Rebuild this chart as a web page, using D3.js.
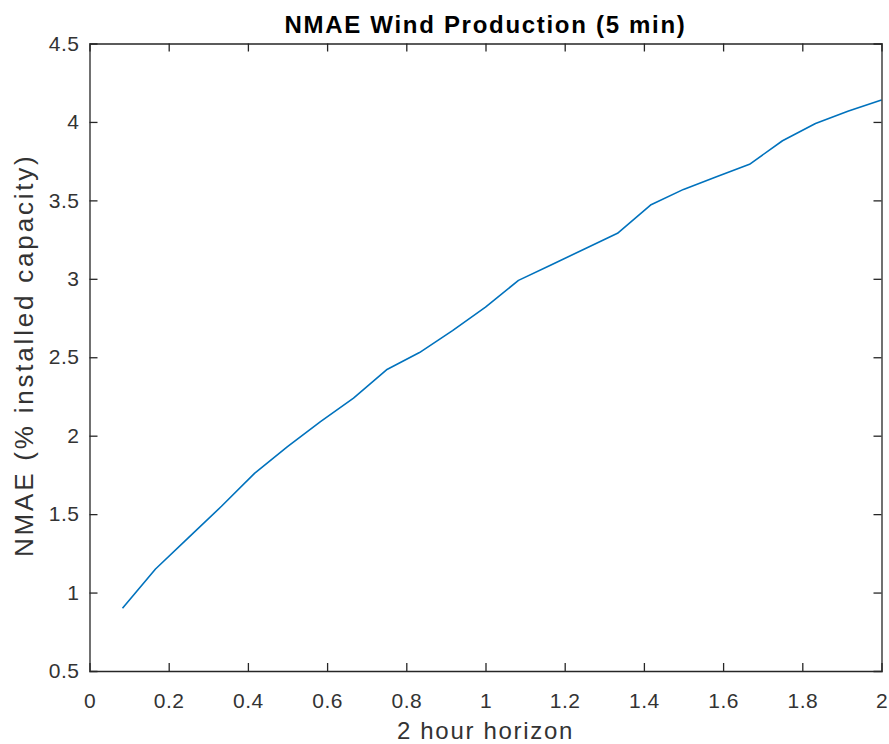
<!DOCTYPE html>
<html>
<head>
<meta charset="utf-8">
<script src="https://cdn.jsdelivr.net/npm/d3@7"></script>
<style>
body { margin: 0; background: #fff; }
text { font-family: "Liberation Sans", Arial, sans-serif; }
</style>
</head>
<body>
<div id="canvas"></div>
<script>
// ----------------------------------------------------------
// DATA -----------------------------------------------------
// ----------------------------------------------------------

// horizon in hours (5 min steps)
var horizon = [0.0833, 0.1667, 0.25, 0.3333, 0.4167, 0.5, 0.5833, 0.6667,
  0.75, 0.8333, 0.9167, 1.0, 1.0833, 1.1667, 1.25, 1.3333,
  1.4167, 1.5, 1.5833, 1.6667, 1.75, 1.8333, 1.9167, 2.0];

// NMAE (% installed capacity)
var nmae = [0.90, 1.15, 1.35, 1.55, 1.76, 1.93, 2.09, 2.24,
  2.42, 2.53, 2.67, 2.82, 2.99, 3.09, 3.19, 3.29,
  3.47, 3.57, 3.65, 3.73, 3.88, 3.99, 4.07, 4.14];

var x_ticks = [0, 0.2, 0.4, 0.6, 0.8, 1, 1.2, 1.4, 1.6, 1.8, 2];
var y_ticks = [0.5, 1, 1.5, 2, 2.5, 3, 3.5, 4, 4.5];

var title_text = "NMAE Wind Production (5 min)";
var x_label = "2 hour horizon";
var y_label = "NMAE (% installed capacity)";

// ----------------------------------------------------------
// STRUCTURE ------------------------------------------------
// ----------------------------------------------------------

var W = 889, H = 744;
var box = { left: 89.5, right: 881.5, top: 43.5, bottom: 671 };
var axis_color = "#262626";
var label_color = "#333";
var tick_len = 8;

var svg = d3.select("#canvas").append("svg")
  .attr("width", W)
  .attr("height", H)
  .style("background-color", "#fff");

var xScale = d3.scaleLinear().domain([0, 2]).range([box.left, box.right]);
var yScale = d3.scaleLinear().domain([0.5, 4.5]).range([box.bottom, box.top]);

// ----------------------------------------------------------
// LINE -----------------------------------------------------
// ----------------------------------------------------------

var points = horizon.map(function (h, i) { return [h, nmae[i]]; });

svg.append("path")
  .datum(points)
  .attr("fill", "none")
  .attr("stroke", "#0072BD")
  .attr("stroke-width", 1.6)
  .attr("stroke-linejoin", "round")
  .attr("d", d3.line()
    .x(function (d) { return xScale(d[0]); })
    .y(function (d) { return yScale(d[1]); }));

// ----------------------------------------------------------
// AXES (box with inward ticks on all sides) ----------------
// ----------------------------------------------------------

var xBottom = svg.append("g")
  .attr("transform", "translate(0," + box.bottom + ")")
  .call(d3.axisBottom(xScale).tickValues(x_ticks).tickSize(-tick_len).tickPadding(tick_len + 14).tickFormat(d3.format("~g")));
var xTop = svg.append("g")
  .attr("transform", "translate(0," + box.top + ")")
  .call(d3.axisTop(xScale).tickValues(x_ticks).tickSize(-tick_len).tickFormat(""));
var yLeft = svg.append("g")
  .attr("transform", "translate(" + box.left + ",0)")
  .call(d3.axisLeft(yScale).tickValues(y_ticks).tickSize(-tick_len).tickPadding(tick_len + 2).tickFormat(d3.format("~g")));
var yRight = svg.append("g")
  .attr("transform", "translate(" + box.right + ",0)")
  .call(d3.axisRight(yScale).tickValues(y_ticks).tickSize(-tick_len).tickFormat(""));

[xBottom, xTop, yLeft, yRight].forEach(function (g) {
  g.select(".domain").attr("stroke", axis_color).attr("stroke-width", 1.3);
  g.selectAll(".tick line").attr("stroke", axis_color).attr("stroke-width", 1.3);
  g.selectAll(".tick text")
    .attr("fill", label_color)
    .style("font-family", "'Liberation Sans', Arial, sans-serif")
    .style("font-size", "21px")
    .style("letter-spacing", "0.5px");
});
// hide ticks at the box corners
xBottom.selectAll(".tick line").filter(function (d) { return d === 0 || d === 2; }).remove();
xTop.selectAll(".tick line").filter(function (d) { return d === 0 || d === 2; }).remove();
yLeft.selectAll(".tick line").filter(function (d) { return d === 0.5 || d === 4.5; }).remove();
yRight.selectAll(".tick line").filter(function (d) { return d === 0.5 || d === 4.5; }).remove();

// ----------------------------------------------------------
// TEXT -----------------------------------------------------
// ----------------------------------------------------------

svg.append("text")
  .attr("x", (box.left + box.right) / 2)
  .attr("y", 33)
  .attr("text-anchor", "middle")
  .style("font-size", "24px")
  .style("font-weight", "bold")
  .style("letter-spacing", "1.7px")
  .attr("fill", "#000")
  .text(title_text);

svg.append("text")
  .attr("x", (box.left + box.right) / 2)
  .attr("y", 739)
  .attr("text-anchor", "middle")
  .style("font-size", "24px")
  .style("letter-spacing", "1.7px")
  .attr("fill", label_color)
  .text(x_label);

svg.append("text")
  .attr("transform", "translate(33," + ((box.top + box.bottom) / 2 - 2) + ") rotate(-90)")
  .attr("text-anchor", "middle")
  .style("font-size", "26px")
  .style("letter-spacing", "2.8px")
  .attr("fill", label_color)
  .text(y_label);
</script>
</body>
</html>
